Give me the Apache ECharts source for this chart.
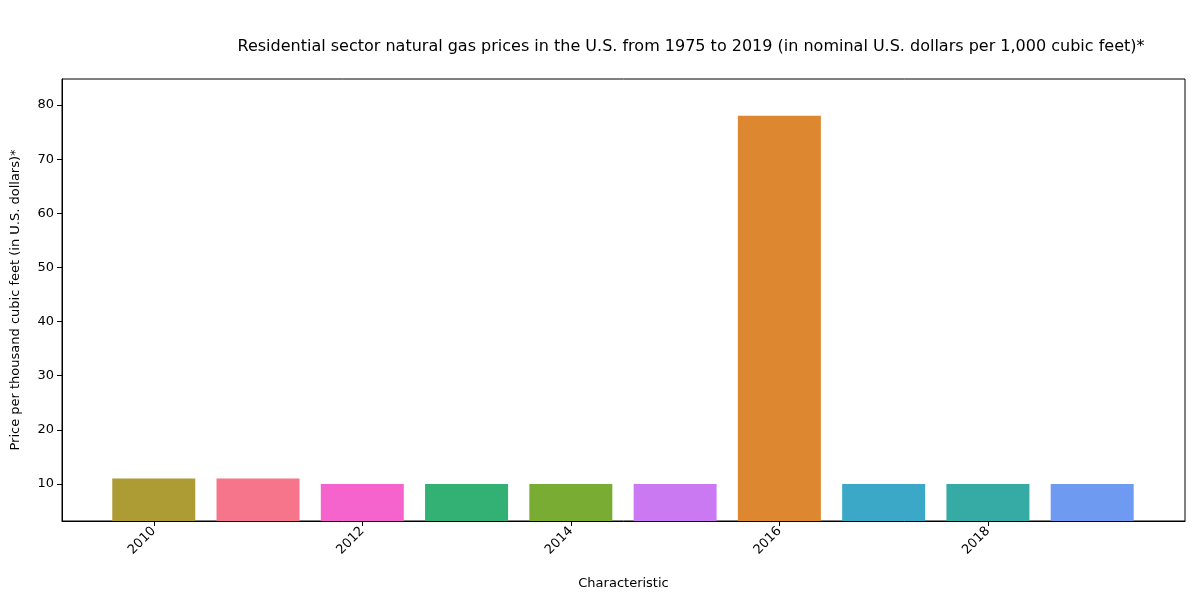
<!DOCTYPE html>
<html>
<head>
<meta charset="utf-8">
<script src="https://cdn.jsdelivr.net/npm/echarts@6/dist/echarts.min.js"></script>
<style>html,body{margin:0;padding:0;background:#fff}#chart{width:1200px;height:600px}</style>
</head>
<body>
<div id="chart"></div>
<script>
// data
const years = [2010, 2011, 2012, 2013, 2014, 2015, 2016, 2017, 2018, 2019]
const prices = [11, 11, 10, 10, 10, 10, 78, 10, 10, 10]
const barColors = ['#ad9c33', '#f7758a', '#f564cc', '#33b074', '#79ac32', '#cb79f2', '#dd8831', '#3aa8c6', '#36aba6', '#6e9af2']
const tickYears = [2010, 2012, 2014, 2016, 2018]

const chart = echarts.init(document.getElementById('chart'))
const font = 'DejaVu Sans'

chart.setOption({
    animation: false,
    textStyle: { fontFamily: font },
    title: {
        text: 'Residential sector natural gas prices in the U.S. from 1975 to 2019 (in nominal U.S. dollars per 1,000 cubic feet)*',
        left: 686, top: 34, textAlign: 'center',
        textStyle: { fontSize: 16, fontWeight: 'normal', color: '#000', fontFamily: font }
    },
    grid: { left: 62, right: 15, top: 79, bottom: 79, show: true, borderColor: '#000', borderWidth: 1 },
    xAxis: {
        type: 'value', min: 2009.12, max: 2019.89,
        name: 'Characteristic', nameLocation: 'middle', nameGap: 56,
        nameTextStyle: { fontSize: 13, color: '#000' },
        splitLine: { show: false },
        axisLine: { show: true, lineStyle: { color: '#000' } },
        axisTick: { show: true, customValues: tickYears, length: 5, lineStyle: { color: '#000' } },
        axisLabel: { customValues: tickYears, rotate: 45, fontSize: 13, color: '#000', formatter: v => String(v) }
    },
    yAxis: {
        type: 'value', min: 3.17, max: 84.8,
        name: 'Price per thousand cubic feet (in U.S. dollars)*', nameLocation: 'middle', nameGap: 40,
        nameTextStyle: { fontSize: 13, color: '#000' },
        splitLine: { show: false },
        axisLine: { show: true, lineStyle: { color: '#000' } },
        axisTick: { show: true, customValues: [10, 20, 30, 40, 50, 60, 70, 80], length: 5, lineStyle: { color: '#000' } },
        axisLabel: { customValues: [10, 20, 30, 40, 50, 60, 70, 80], fontSize: 13, color: '#000' }
    },
    series: [{
        type: 'bar',
        barWidth: 83,
        data: years.map((y, i) => ({ value: [y, prices[i]], itemStyle: { color: barColors[i] } }))
    }]
})
</script>
</body>
</html>
